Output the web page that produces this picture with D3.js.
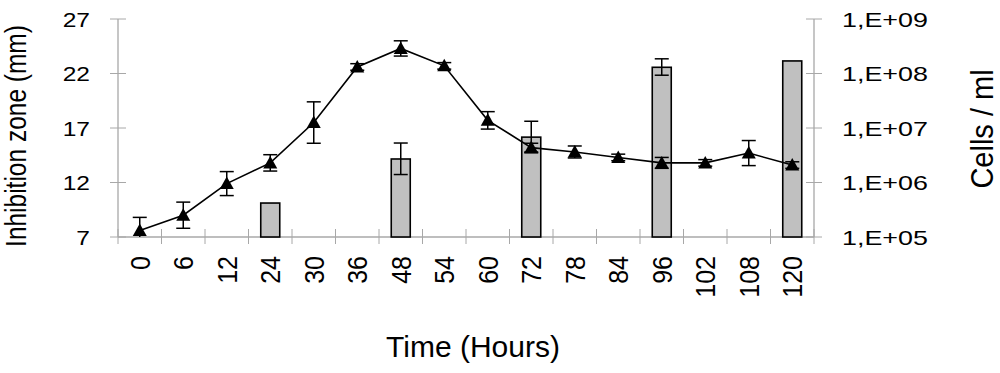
<!DOCTYPE html>
<html>
<head>
<meta charset="utf-8">
<script src="https://cdn.jsdelivr.net/npm/d3@7"></script>
<style>
  body { margin: 0; background: #fff; }
  text { font-family: "Liberation Sans", Arial, sans-serif; fill: #000; }
</style>
</head>
<body>
<svg id="chart" width="1000" height="373"></svg>
<script>
// time points (category axis)
var hours = [0, 6, 12, 24, 30, 36, 48, 54, 60, 72, 78, 84, 96, 102, 108, 120];
// inhibition zone (mm) and its error
var zone    = [7.6, 9.0, 11.9, 13.8, 17.5, 22.6, 24.3, 22.7, 17.7, 15.2, 14.8, 14.3, 13.8, 13.8, 14.7, 13.6];
var zoneErr = [1.2, 1.2, 1.1, 0.75, 1.9, 0.3, 0.7, 0.3, 0.8, 0.4, 0.55, 0.3, 0.5, 0.3, 1.15, 0.3];
// cell counts (cells / ml)
var cellHours = [24, 48, 72, 96, 120];
var cells     = [4.2e5, 2.7e6, 6.8e6, 1.3e8, 1.7e8];
var cellsLo   = [null, 1.4e6, 3.5e6, 9.3e7, null];
var cellsHi   = [null, 5.3e6, 1.33e7, 1.86e8, null];

var leftTicks = [7, 12, 17, 22, 27];
var rightTicks = [1e5, 1e6, 1e7, 1e8, 1e9];

var svg = d3.select("#chart");
var pLeft = 118, pRight = 814, pTop = 19, pBottom = 237;

var x = d3.scaleBand().domain(hours).range([pLeft, pRight]);
var y = d3.scaleLinear().domain([7, 27]).range([pBottom, pTop]);
var y2 = d3.scaleLog().domain([1e5, 1e9]).range([pBottom, pTop]);

var axisColor = "#a8a8a8";

// the picture is stretched sideways, so texts get a horizontal scale
function label(px, py, str, size, anchor, sx, rot) {
  var t = "translate(" + px + "," + py + ") scale(" + sx + ",1)" + (rot ? " rotate(" + rot + ")" : "");
  return svg.append("text").attr("transform", t)
    .attr("text-anchor", anchor).style("font-size", size + "px").text(str);
}

// axes lines + cross ticks
svg.append("line").attr("x1", pLeft).attr("x2", pLeft).attr("y1", pTop).attr("y2", pBottom)
  .attr("stroke", axisColor).attr("stroke-width", 1.3);
svg.append("line").attr("x1", pRight).attr("x2", pRight).attr("y1", pTop).attr("y2", pBottom)
  .attr("stroke", axisColor).attr("stroke-width", 1.3);
svg.append("line").attr("x1", pLeft).attr("x2", pRight).attr("y1", pBottom).attr("y2", pBottom)
  .attr("stroke", axisColor).attr("stroke-width", 1.3);

leftTicks.forEach(function(t) {
  svg.append("line").attr("x1", pLeft - 8).attr("x2", pLeft + 8).attr("y1", y(t)).attr("y2", y(t))
    .attr("stroke", axisColor).attr("stroke-width", 1);
  label(90, y(t) + 7.5, t, 21, "end", 1.17);
});

rightTicks.forEach(function(t) {
  svg.append("line").attr("x1", pRight - 8).attr("x2", pRight + 8).attr("y1", y2(t)).attr("y2", y2(t))
    .attr("stroke", axisColor).attr("stroke-width", 1);
  var e = Math.round(Math.log10(t));
  label(842, y2(t) + 7.5, "1,E+" + (e < 10 ? "0" + e : e), 21, "start", 1.28);
});

// x ticks at category boundaries
var bounds = hours.map(function(h) { return x(h); }).concat([pRight]);
bounds.forEach(function(b) {
  svg.append("line").attr("x1", b).attr("x2", b).attr("y1", pBottom - 8).attr("y2", pBottom + 7)
    .attr("stroke", axisColor).attr("stroke-width", 1);
});

hours.forEach(function(h) {
  var cx = x(h) + x.bandwidth() / 2;
  label(cx, 256, h, 25, "end", 1.1, -90).attr("dy", "0.36em");
});

// bars (cells/ml)
var barW = 19;
var bars = svg.append("g");
cellHours.forEach(function(h, i) {
  var cx = x(h) + x.bandwidth() / 2;
  bars.append("rect")
    .attr("x", cx - barW / 2).attr("y", y2(cells[i]))
    .attr("width", barW).attr("height", pBottom - y2(cells[i]))
    .attr("fill", "#c0c0c0").attr("stroke", "#000").attr("stroke-width", 1.6);
  if (cellsLo[i] != null) {
    bars.append("line").attr("x1", cx).attr("x2", cx).attr("y1", y2(cellsLo[i])).attr("y2", y2(cellsHi[i]))
      .attr("stroke", "#000").attr("stroke-width", 1.5);
    [cellsLo[i], cellsHi[i]].forEach(function(v) {
      bars.append("line").attr("x1", cx - 7).attr("x2", cx + 7).attr("y1", y2(v)).attr("y2", y2(v))
        .attr("stroke", "#000").attr("stroke-width", 1.5);
    });
  }
});

// line (inhibition zone)
var pts = hours.map(function(h, i) { return [x(h) + x.bandwidth() / 2, y(zone[i])]; });
svg.append("path").attr("d", d3.line()(pts))
  .attr("fill", "none").attr("stroke", "#000").attr("stroke-width", 1.6);

// error bars
var eb = svg.append("g");
hours.forEach(function(h, i) {
  var cx = pts[i][0];
  var lo = Math.max(7, zone[i] - zoneErr[i]), hi = zone[i] + zoneErr[i];
  eb.append("line").attr("x1", cx).attr("x2", cx).attr("y1", y(lo)).attr("y2", y(hi))
    .attr("stroke", "#000").attr("stroke-width", 1.5);
  eb.append("line").attr("x1", cx - 7).attr("x2", cx + 7).attr("y1", y(hi)).attr("y2", y(hi))
    .attr("stroke", "#000").attr("stroke-width", 1.5);
  if (zone[i] - zoneErr[i] >= 7) {
    eb.append("line").attr("x1", cx - 7).attr("x2", cx + 7).attr("y1", y(lo)).attr("y2", y(lo))
      .attr("stroke", "#000").attr("stroke-width", 1.5);
  }
});

// triangle markers
svg.append("g").selectAll("path")
  .data(pts).enter().append("path")
  .attr("transform", function(d) { return "translate(" + d[0] + "," + d[1] + ")"; })
  .attr("d", "M0,-7 L7,5.5 L-7,5.5 Z")
  .attr("fill", "#000");

// titles
label(26, 136, "Inhibition zone (mm)", 24.5, "middle", 1.2, -90);
label(993, 129, "Cells / ml", 29, "middle", 1.05, -90);
label(473, 357, "Time (Hours)", 30, "middle", 1);
</script>
</body>
</html>
